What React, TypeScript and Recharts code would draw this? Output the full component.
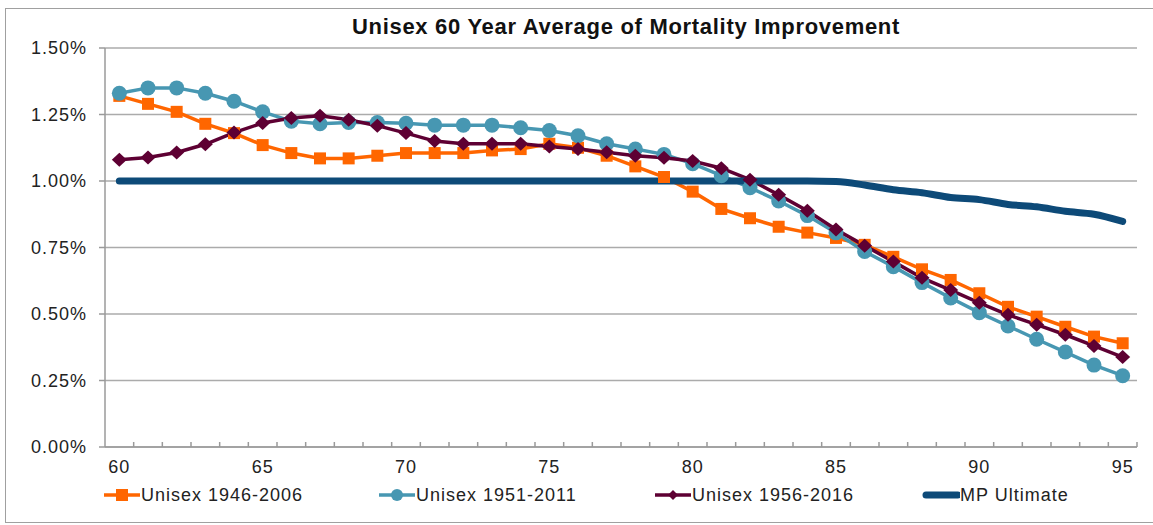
import { LineChart, Line, XAxis, YAxis, CartesianGrid, Legend } from "recharts";

const ages = [
  60, 61, 62, 63, 64, 65, 66, 67, 68, 69, 70, 71, 72, 73, 74, 75, 76, 77,
  78, 79, 80, 81, 82, 83, 84, 85, 86, 87, 88, 89, 90, 91, 92, 93, 94, 95,
];

const unisex1946 = [
  1.32, 1.29, 1.26, 1.215, 1.18, 1.135, 1.105, 1.085, 1.085, 1.095,
  1.105, 1.105, 1.105, 1.115, 1.12, 1.14, 1.125, 1.095, 1.055, 1.015,
  0.96, 0.895, 0.86, 0.828, 0.806, 0.786, 0.76, 0.715, 0.668, 0.628,
  0.578, 0.527, 0.49, 0.452, 0.415, 0.39,
];

const unisex1951 = [
  1.33, 1.35, 1.35, 1.33, 1.3, 1.26, 1.225, 1.215, 1.22, 1.22,
  1.217, 1.21, 1.21, 1.21, 1.2, 1.19, 1.17, 1.14, 1.12, 1.1,
  1.065, 1.02, 0.975, 0.925, 0.87, 0.805, 0.735, 0.678, 0.618, 0.56,
  0.505, 0.455, 0.405, 0.357, 0.308, 0.268,
];

const unisex1956 = [
  1.08, 1.088, 1.107, 1.138, 1.182, 1.218, 1.237, 1.245, 1.23, 1.208,
  1.18, 1.15, 1.14, 1.14, 1.14, 1.13, 1.12, 1.108, 1.095, 1.087,
  1.075, 1.048, 1.005, 0.948, 0.888, 0.818, 0.757, 0.697, 0.636, 0.59,
  0.542, 0.497, 0.46, 0.422, 0.38, 0.338,
];

const mpUltimate = [
  1, 1, 1, 1, 1, 1, 1, 1, 1, 1,
  1, 1, 1, 1, 1, 1, 1, 1, 1, 1,
  1, 1, 1, 1, 1, 0.998, 0.985, 0.967, 0.956, 0.938,
  0.93, 0.912, 0.903, 0.886, 0.875, 0.848,
];

const yTicks = [0, 0.25, 0.5, 0.75, 1, 1.25, 1.5];
const xLabels = [60, 65, 70, 75, 80, 85, 90, 95];

const data = ages.map((age, i) => ({
  age,
  u1946: unisex1946[i],
  u1951: unisex1951[i],
  u1956: unisex1956[i],
  mp: mpUltimate[i],
}));

// minor tick marks sit between categories, labels on every 5th age
const xTicks = [...ages.map((a) => a + 0.5), ...xLabels].sort((a, b) => a - b);

const FONT = "'Liberation Sans', Arial, sans-serif";
const ORANGE = "#FF6600";
const TEAL = "#4797B2";
const MAROON = "#5E0033";
const NAVY = "#0D4A78";
const AXIS = "#9A9A9A";

const XTick = (props: any) => {
  const { x, y, payload } = props;
  const v = payload.value;
  if (Number.isInteger(v)) {
    return (
      <text x={x} y={y + 26} textAnchor="middle" fontSize={18} fill="#222" fontFamily={FONT} letterSpacing={1}>
        {v}
      </text>
    );
  }
  return <line x1={x} x2={x} y1={y} y2={y - 5} stroke={AXIS} strokeWidth={1.5} />;
};

const squareDot = (p: any) => (
  <rect key={"s" + p.index} x={p.cx - 6} y={p.cy - 6} width={12} height={12} fill={ORANGE} />
);
const circleDot = (p: any) => (
  <circle key={"c" + p.index} cx={p.cx} cy={p.cy} r={7.5} fill={TEAL} />
);
const diamondDot = (p: any) => (
  <polygon
    key={"d" + p.index}
    points={`${p.cx},${p.cy - 7} ${p.cx + 7.5},${p.cy} ${p.cx},${p.cy + 7} ${p.cx - 7.5},${p.cy}`}
    fill={MAROON}
  />
);

const legendItems = [
  { name: "Unisex 1946-2006", color: ORANGE, left: 103, marker: "square" },
  { name: "Unisex 1951-2011", color: TEAL, left: 378, marker: "circle" },
  { name: "Unisex 1956-2016", color: MAROON, left: 654, marker: "diamond" },
  { name: "MP Ultimate", color: NAVY, left: 922, marker: "none" },
];

const renderLegend = () => (
  <div style={{ position: "relative", width: 1153, height: 24, fontFamily: FONT }}>
    {legendItems.map((it) => (
      <div key={it.name} style={{ position: "absolute", left: it.left, top: 0, display: "flex", alignItems: "center", height: 24 }}>
        <svg width={38} height={24}>
          {it.marker === "none" ? (
            <line x1={4} x2={36} y1={12} y2={12} stroke={it.color} strokeWidth={7} strokeLinecap="round" />
          ) : (
            <line x1={1} x2={37} y1={12} y2={12} stroke={it.color} strokeWidth={3.5} />
          )}
          {it.marker === "square" && <rect x={13} y={6} width={12} height={12} fill={it.color} />}
          {it.marker === "circle" && <circle cx={19} cy={12} r={6} fill={it.color} />}
          {it.marker === "diamond" && <polygon points="19,7 24,12 19,17 14,12" fill={it.color} />}
        </svg>
        <span style={{ fontSize: 18, color: "#222", letterSpacing: 1 }}>{it.name}</span>
      </div>
    ))}
  </div>
);

export default function App() {
  return (
    <div style={{ position: "absolute", left: 0, top: 0, width: 1153, height: 525, background: "#fff" }}>
      <div
        style={{
          position: "absolute",
          left: 5,
          top: 8,
          width: 1150,
          height: 513,
          borderLeft: "1px solid #A0A0A0",
          borderTop: "1px solid #A0A0A0",
          borderBottom: "1px solid #A0A0A0",
        }}
      />
      <div
        style={{
          position: "absolute",
          left: 626,
          top: 16,
          transform: "translateX(-50%)",
          whiteSpace: "nowrap",
          fontFamily: FONT,
          fontWeight: "bold",
          fontSize: 22,
          lineHeight: "22px",
          letterSpacing: 0.7,
          color: "#111",
        }}
      >
        Unisex 60 Year Average of Mortality Improvement
      </div>
      <LineChart width={1153} height={525} data={data} margin={{ top: 48, right: 16, bottom: 14, left: 0 }}>
        <CartesianGrid vertical={false} stroke="#ABABAB" strokeWidth={1.5} />
        <XAxis
          dataKey="age"
          type="number"
          domain={[59.5, 95.5]}
          ticks={xTicks}
          interval={0}
          tickSize={0}
          tickMargin={0}
          tickLine={false}
          tick={<XTick />}
          height={40}
          axisLine={{ stroke: AXIS, strokeWidth: 1.5 }}
        />
        <YAxis
          domain={[0, 1.5]}
          ticks={yTicks}
          interval={0}
          width={105}
          tickSize={6}
          tickMargin={12}
          tickFormatter={(v: number) => v.toFixed(2) + "%"}
          tick={{ fontSize: 18, fill: "#222", fontFamily: FONT, letterSpacing: 1 }}
          tickLine={{ stroke: AXIS, strokeWidth: 1.5 }}
          axisLine={{ stroke: AXIS, strokeWidth: 1.5 }}
        />
        <Legend
          content={renderLegend}
          wrapperStyle={{ position: "absolute", left: 0, top: 483, bottom: "auto", width: 1153, height: 24 }}
        />
        <Line dataKey="u1946" name="Unisex 1946-2006" type="linear" stroke={ORANGE} strokeWidth={3.5} dot={squareDot} activeDot={false} isAnimationActive={false} />
        <Line dataKey="u1951" name="Unisex 1951-2011" type="linear" stroke={TEAL} strokeWidth={3.5} dot={circleDot} activeDot={false} isAnimationActive={false} />
        <Line dataKey="u1956" name="Unisex 1956-2016" type="linear" stroke={MAROON} strokeWidth={3.5} dot={diamondDot} activeDot={false} isAnimationActive={false} />
        <Line dataKey="mp" name="MP Ultimate" type="monotone" stroke={NAVY} strokeWidth={7} strokeLinecap="round" dot={false} activeDot={false} isAnimationActive={false} />
      </LineChart>
    </div>
  );
}
